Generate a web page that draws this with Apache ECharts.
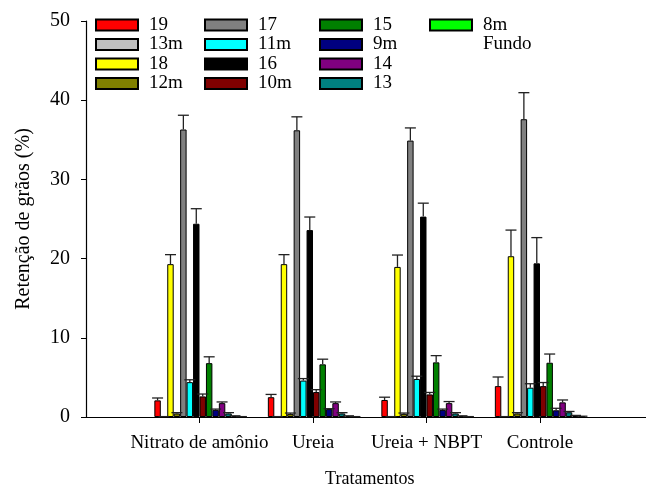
<!DOCTYPE html>
<html>
<head>
<meta charset="utf-8">
<script src="https://cdn.jsdelivr.net/npm/echarts@6/dist/echarts.min.js"></script>
<style>
html,body{margin:0;padding:0;background:#fff;}
#chart{width:646px;height:486px;}
</style>
</head>
<body>
<div id="chart"></div>
<script>
// ---- Data ----
const treatments = ['Nitrato de amônio', 'Ureia', 'Ureia + NBPT', 'Controle'];
const sizes = ['19', '13m', '18', '12m', '17', '11m', '16', '10m', '15', '9m', '14', '13', '8m', 'Fundo'];
const colors = ['#FF0000', '#C0C0C0', '#FFFF00', '#808000', '#808080', '#00FFFF', '#000000', '#800000', '#008000', '#000080', '#800080', '#008080', '#00FF00', '#FFFFFF'];

// values per treatment, in the order of "sizes"
const nitratoVals  = [2.1, 0.05, 19.3, 0.45, 36.3, 4.4, 24.4, 2.6, 6.8, 0.9, 1.75, 0.45, 0.1, 0.05];
const nitratoErr   = [0.3, 0, 1.2, 0.1, 1.8, 0.3, 1.9, 0.3, 0.8, 0.1, 0.15, 0.1, 0.05, 0];
const ureiaVals    = [2.5, 0.05, 19.3, 0.4, 36.2, 4.6, 23.6, 3.15, 6.65, 1.0, 1.75, 0.45, 0.1, 0.05];
const ureiaErr     = [0.35, 0, 1.2, 0.1, 1.7, 0.25, 1.65, 0.3, 0.65, 0.05, 0.15, 0.1, 0.05, 0];
const nbptVals     = [2.15, 0.05, 18.95, 0.4, 34.9, 4.8, 25.3, 2.85, 6.9, 0.9, 1.75, 0.45, 0.1, 0.05];
const nbptErr      = [0.35, 0, 1.5, 0.1, 1.6, 0.35, 1.7, 0.25, 0.85, 0.1, 0.2, 0.1, 0.05, 0];
const controleVals = [3.9, 0.05, 20.3, 0.45, 37.6, 3.7, 19.4, 3.9, 6.85, 0.85, 1.85, 0.6, 0.15, 0.1];
const controleErr  = [1.15, 0, 3.3, 0.1, 3.35, 0.5, 3.25, 0.45, 1.1, 0.25, 0.3, 0.1, 0.05, 0];

const yTicks = [0, 10, 20, 30, 40, 50];

// ---- Build ----
const groupVals = [nitratoVals, ureiaVals, nbptVals, controleVals];
const groupErr = [nitratoErr, ureiaErr, nbptErr, controleErr];
// pad categories so that axis starts one band before the first group
const xCats = [''].concat(treatments).concat(['']);

const FONT = '"Liberation Serif", "Times New Roman", serif';
const BAR_W = 6.45;
const N = sizes.length;

const barSeries = sizes.map((name, si) => ({
  name: name,
  type: 'bar',
  barWidth: BAR_W,
  barGap: '0%',
  itemStyle: { color: colors[si], borderColor: '#000', borderWidth: 1 },
  data: [null].concat(groupVals.map(g => g[si])).concat([null]),
  z: 2
}));

const errData = [];
groupVals.forEach((g, gi) => {
  g.forEach((v, si) => {
    errData.push([gi + 1, v, groupErr[gi][si], si]);
  });
});

const errSeries = {
  type: 'custom',
  name: 'err',
  z: 5,
  data: errData,
  encode: { x: 0, y: 1 },
  renderItem: function (params, api) {
    const cat = api.value(0);
    const v = api.value(1);
    const e = api.value(2);
    const si = api.value(3);
    const base = api.coord([cat, v]);
    const top = api.coord([cat, v + e]);
    const x = base[0] + (si - (N - 1) / 2) * BAR_W;
    const capHalf = 5.5;
    const st = { stroke: '#222', lineWidth: 1.3, fill: null };
    return {
      type: 'group',
      children: [
        { type: 'line', shape: { x1: x, y1: base[1], x2: x, y2: top[1] }, style: st },
        { type: 'line', shape: { x1: x - capHalf, y1: top[1], x2: x + capHalf, y2: top[1] }, style: st }
      ]
    };
  }
};

function legendCol(names, left) {
  return {
    orient: 'vertical',
    left: left,
    top: 15.5,
    padding: 0,
    itemWidth: 42,
    itemHeight: 11,
    itemGap: 0.5,
    icon: 'rect',
    textStyle: { fontFamily: FONT, fontSize: 19, color: '#000', lineHeight: 19, padding: [0, 0, 0, 6] },
    data: names.map(n => n === 'Fundo'
      ? { name: n, itemStyle: { color: 'rgba(0,0,0,0)', borderColor: 'rgba(0,0,0,0)' } }
      : n)
  };
}

const option = {
  animation: false,
  backgroundColor: '#fff',
  grid: { left: 86, top: 21, height: 396, width: 567.5, containLabel: false, outerBoundsMode: 'none' },
  legend: [
    legendCol(sizes.slice(0, 4), 95),
    legendCol(sizes.slice(4, 8), 204),
    legendCol(sizes.slice(8, 12), 319),
    legendCol(sizes.slice(12, 14), 429)
  ],
  xAxis: {
    type: 'category',
    data: xCats,
    boundaryGap: false,
    name: 'Tratamentos',
    nameLocation: 'middle',
    nameGap: 53,
    nameTextStyle: { fontFamily: FONT, fontSize: 18, color: '#000' },
    axisLine: { lineStyle: { color: '#000', width: 1.2 } },
    axisTick: { show: true, length: 6, interval: function (i) { return i > 0 && i < xCats.length - 1; }, lineStyle: { color: '#000' } },
    axisLabel: { fontFamily: FONT, fontSize: 19, color: '#000', margin: 17, interval: 0 },
    splitLine: { show: false }
  },
  yAxis: {
    type: 'value',
    min: yTicks[0],
    max: yTicks[yTicks.length - 1],
    interval: 10,
    name: 'Retenção de grãos (%)',
    nameLocation: 'middle',
    nameGap: 52,
    nameTextStyle: { fontFamily: FONT, fontSize: 20, color: '#000' },
    axisLine: { show: true, lineStyle: { color: '#000', width: 1.2 } },
    axisTick: { show: true, length: 5, lineStyle: { color: '#000' } },
    axisLabel: { fontFamily: FONT, fontSize: 20, color: '#000', margin: 16 },
    splitLine: { show: false }
  },
  series: barSeries.concat([errSeries])
};

const chart = echarts.init(document.getElementById('chart'), null, { renderer: 'canvas' });
chart.setOption(option);
</script>
</body>
</html>
